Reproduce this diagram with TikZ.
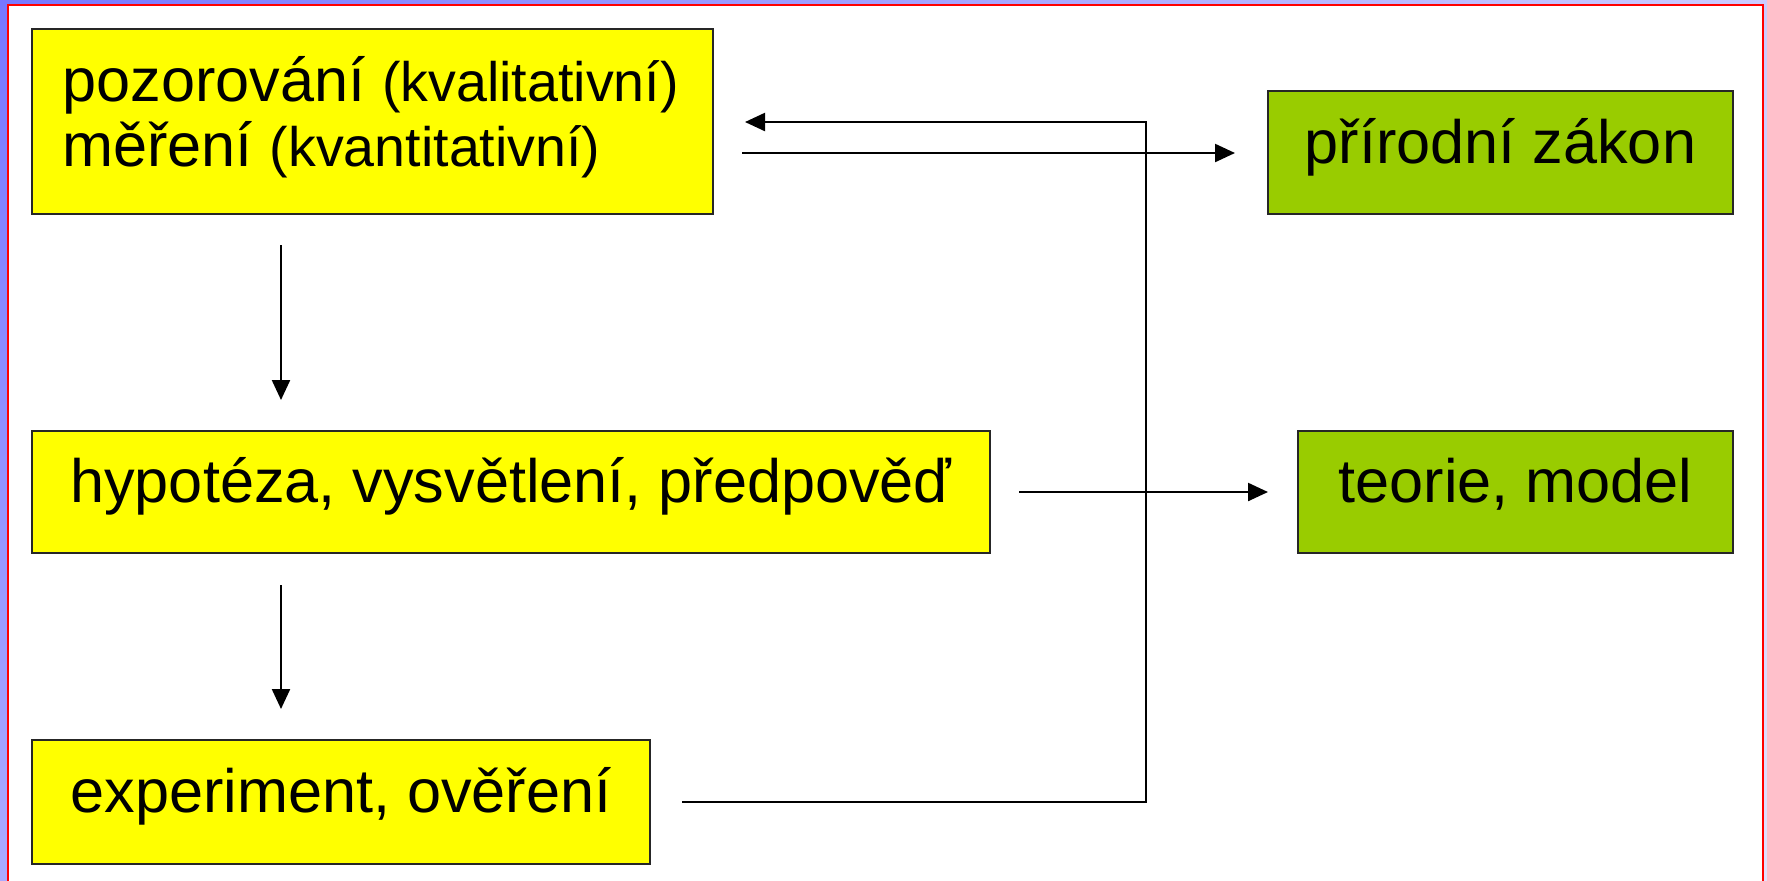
\documentclass[tikz,border=0pt]{standalone}
\usepackage{fontspec}
\setmainfont{Liberation Sans}
\usetikzlibrary{arrows.meta,shadings}
\definecolor{ppyellow}{RGB}{255,255,0}
\definecolor{ppgreen}{RGB}{153,204,0}
\definecolor{frameRed}{RGB}{255,0,0}
\definecolor{bgA}{RGB}{119,119,255}
\definecolor{bgB}{RGB}{204,204,255}
\definecolor{bgC}{RGB}{170,170,255}
\definecolor{bgD}{RGB}{225,225,255}
\begin{document}
\begin{tikzpicture}[x=0.5pt,y=-0.5pt,
  box/.style={draw=black!85, line width=1.25pt, inner sep=0pt, outer sep=0pt,
    font=\fontsize{30.6}{36}\selectfont, text height=16pt, text depth=5.5pt},
  ybox/.style={box, fill=ppyellow},
  gbox/.style={box, fill=ppgreen},
  arr/.style={draw=black, line width=1.15pt, -{Triangle[length=10pt,width=9pt]}},
  ln/.style={font=\fontsize{30.6}{36}\selectfont, inner sep=0pt, anchor=base west},
]
\useasboundingbox (0,0) rectangle (1767,880);
\clip (0,0) rectangle (1767,880);
\shade[upper left=bgA, upper right=bgB, lower left=bgC, lower right=bgD] (0,0) rectangle (1767,880);
\draw[frameRed, line width=1pt, fill=white] (8.3,5) rectangle (1763,900);

% boxes
\node[ybox, minimum width=340.5pt, minimum height=92.5pt] (b1) at (372.5,121.5) {};
\node[ln] at (62,101) {pozorování {\fontsize{27.8}{32}\selectfont (kvalitativní)}};
\node[ln] at (62,166) {měření {\fontsize{27.8}{32}\selectfont (kvantitativní)}};

\node[ybox, minimum width=479pt, minimum height=61pt] (b2) at (511,492) {hypotéza, vysvětlení, předpověď};
\node[ybox, minimum width=309pt, minimum height=62pt] (b3) at (341,802) {experiment, ověření};
\node[gbox, minimum width=232.5pt, minimum height=61.5pt] (g1) at (1500.5,152.5) {přírodní zákon};
\node[gbox, minimum width=217.5pt, minimum height=61pt] (g2) at (1515.5,492) {teorie, model};

% helper coordinates
\coordinate (c1) at (281,0);
\coordinate (c3) at (0,153);
\coordinate (c4) at (1146,122);

% connectors
\draw[arr, shorten <=15.5pt, shorten >=15.5pt] (b1.south -| c1) -- (b2.north -| c1);
\draw[arr, shorten <=16pt, shorten >=15.5pt] (b2.south -| c1) -- (b3.north -| c1);
\draw[arr, shorten <=14.5pt, shorten >=16.5pt] (b1.east |- c3) -- (g1.west |- c3);
\draw[arr, shorten <=16pt, shorten >=16pt] (b3.east) -| (c4) -- (b1.east |- c4);
\draw[arr, shorten <=14.5pt, shorten >=15pt] (b2.east) -- (g2.west);
\end{tikzpicture}
\end{document}
